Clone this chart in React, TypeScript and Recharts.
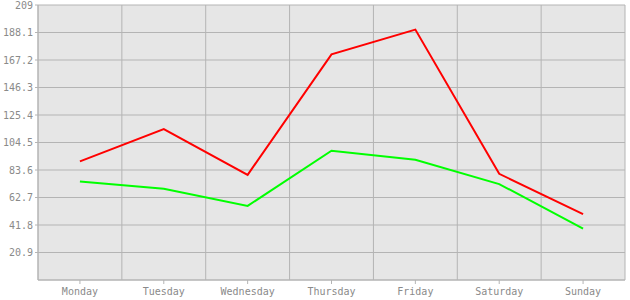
import React from 'react'
import { CartesianGrid, Line, LineChart, XAxis, YAxis } from 'recharts'

const days = ['Monday', 'Tuesday', 'Wednesday', 'Thursday', 'Friday', 'Saturday', 'Sunday']
const redValues = [90.2, 114.7, 79.9, 171.5, 190.3, 80.7, 50.0]
const greenValues = [74.8, 69.3, 56.3, 98.2, 91.4, 72.9, 39.1]
const yTicks = [20.9, 41.8, 62.7, 83.6, 104.5, 125.4, 146.3, 167.2, 188.1, 209]

const data = days.map((day, i) => ({ day, red: redValues[i], green: greenValues[i] }))

const GRID = '#b4b4b4'
const TEXT = '#8a8a8a'
const FONT = { fontFamily: '"DejaVu Sans Mono", monospace', fontSize: 10, fill: TEXT }

export default function App() {
  return (
    <div style={{ position: 'absolute', left: 0, top: 0, background: '#fff' }}>
      <LineChart width={630} height={300} data={data} margin={{ top: 5, right: 5, left: 0, bottom: 0 }}>
        <CartesianGrid
          stroke={GRID}
          fill="#e6e6e6"
          fillOpacity={1}
          verticalCoordinatesGenerator={({ offset }: any) =>
            Array.from({ length: days.length + 1 }, (_, i) => offset.left + (i * offset.width) / days.length)
          }
        />
        <XAxis
          dataKey="day"
          scale="band"
          height={20}
          tickSize={4}
          tickMargin={4}
          tick={FONT}
          axisLine={{ stroke: GRID }}
          tickLine={{ stroke: GRID }}
          interval={0}
        />
        <YAxis
          width={38}
          domain={[0, 209]}
          ticks={yTicks}
          tickSize={3}
          tickMargin={2}
          tick={FONT}
          axisLine={{ stroke: GRID }}
          tickLine={{ stroke: GRID }}
          interval={0}
        />
        <Line dataKey="red" stroke="#ff0000" strokeWidth={2} dot={false} isAnimationActive={false} />
        <Line dataKey="green" stroke="#00ff00" strokeWidth={2} dot={false} isAnimationActive={false} />
      </LineChart>
    </div>
  )
}
